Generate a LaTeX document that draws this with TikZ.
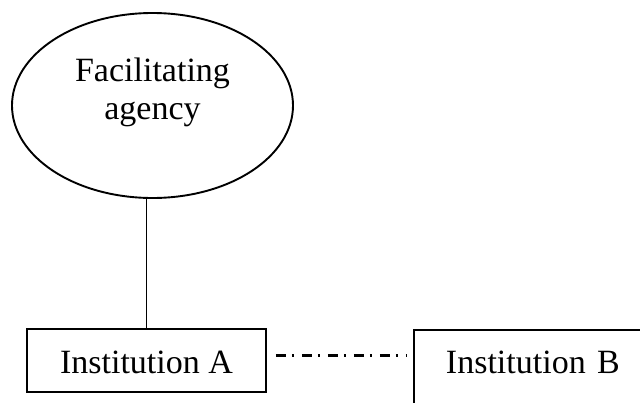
\documentclass[tikz,border=0pt]{standalone}
\usepackage{fontspec}
\setmainfont{Liberation Serif}
\usetikzlibrary{shapes.geometric}
\begin{document}
\begin{tikzpicture}[x=1pt,y=-1pt,
  every node/.style={font=\fontsize{34}{38}\selectfont, inner sep=0pt},
  agency/.style={draw, line width=1.9pt, ellipse, minimum width=281pt, minimum height=185pt},
  instbox/.style={draw, line width=1.9pt, rectangle},
  link/.style={line width=1.9pt},
  dashdot/.style={line width=3pt, dash pattern=on 10pt off 6pt on 2.5pt off 7.5pt}
]
  \useasboundingbox (0,0) rectangle (640,402);
  \clip (0,0) rectangle (640,402);
  % central agency: outline and its two-line label
  \node[agency] (ell) at (152.5,105.5) {};
  \node[align=center, text height=23pt, text depth=7.5pt] (elltext)
    at ([yshift=-5.75pt]ell.center) {Facilitating\\agency};
  % institutions
  \node[instbox, minimum width=239pt, minimum height=63pt,
        text height=30pt, text depth=5pt] (ia) at (146.5,360.5) {Institution A};
  \node[instbox, anchor=north west, inner xsep=32pt, inner ysep=14pt,
        text width=200pt, align=left, text height=30pt, text depth=60pt]
        (ib) at (413,329) {Institution B};
  % links
  \draw[link] (ia.north) -- (ia.north |- ell.south);
  \coordinate (d1) at ([xshift=9pt,yshift=5.5pt]ia.east);
  \coordinate (d2) at (d1 -| ib.west);
  \draw[dashdot] (d1) -- ([xshift=-7pt]d2);
\end{tikzpicture}
\end{document}
